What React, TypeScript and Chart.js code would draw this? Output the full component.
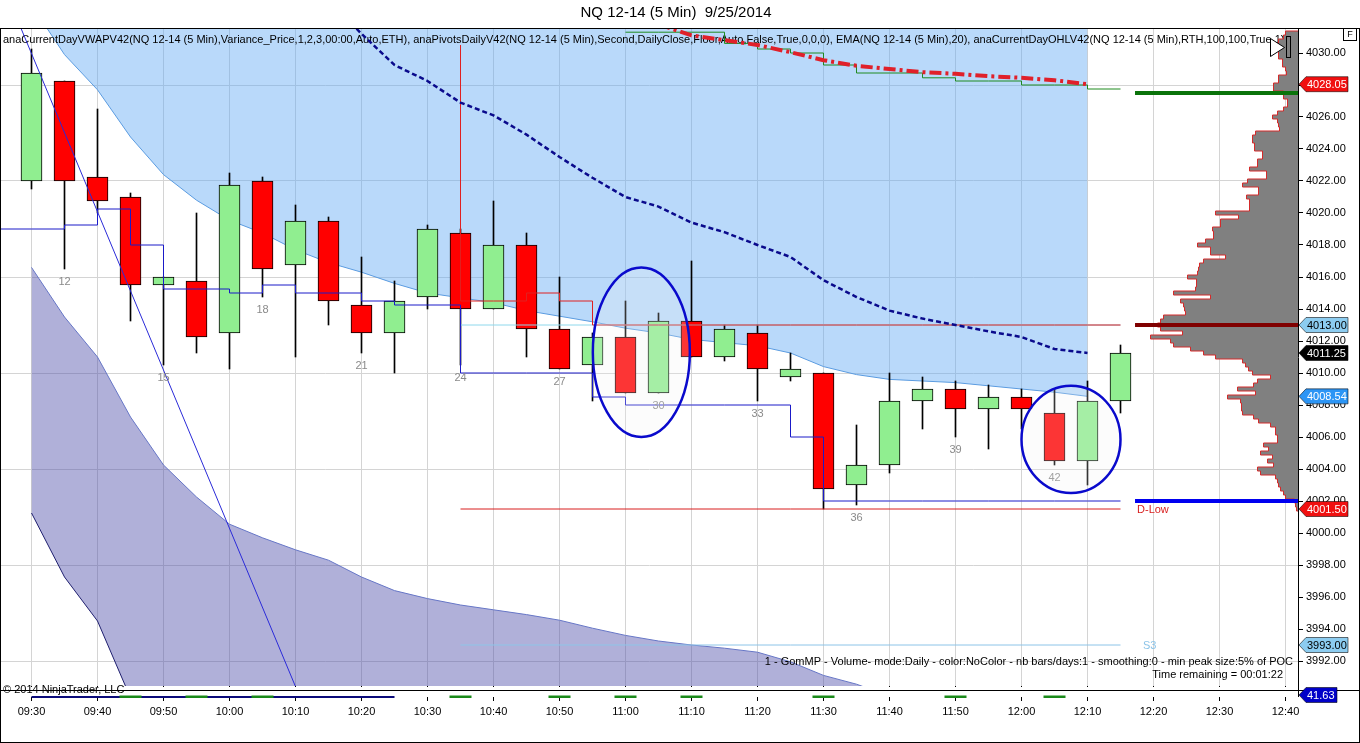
import { useEffect, useRef } from "react";
import Chart from "chart.js/auto";

const FONT = '"Liberation Sans", Arial, sans-serif';

// 5-minute bars, index 0 = 09:30 bar
const opens = [4022, 4028.25, 4022.25, 4021, 4015.5, 4015.75, 4012.5, 4022, 4016.75, 4019.5, 4014.25, 4012.5, 4014.75, 4018.75, 4014, 4018, 4012.75, 4010.5, 4012.25, 4008.75, 4013.25, 4011, 4012.5, 4009.75, 4010, 4003, 4004.25, 4008.25, 4009, 4007.75, 4008.5, 4007.5, 4004.5, 4008.25];
const highs = [4030.25, 4028.25, 4026.5, 4021.25, 4016, 4020, 4022.5, 4022.25, 4020.5, 4019.75, 4017.25, 4015.75, 4019.25, 4019, 4020.75, 4018.75, 4016, 4012.5, 4014.5, 4013.75, 4017, 4013, 4013, 4011.25, 4010, 4006.75, 4010, 4009.75, 4009.5, 4009.25, 4009, 4009, 4009.5, 4011.75];
const lows = [4021.5, 4016.5, 4020, 4013.25, 4010.5, 4011.25, 4010.25, 4014.75, 4011, 4013, 4011.25, 4010, 4014, 4010.5, 4014, 4011, 4010.25, 4008.25, 4008.75, 4008.75, 4011, 4010.75, 4008.25, 4009.5, 4001.5, 4001.75, 4003.75, 4006.5, 4006, 4005.25, 4006.5, 4004.25, 4003, 4007.5];
const closes = [4028.75, 4022, 4020.75, 4015.5, 4016, 4012.25, 4021.75, 4016.5, 4019.5, 4014.5, 4012.5, 4014.5, 4019, 4014, 4018, 4012.75, 4010.25, 4012.25, 4008.75, 4013.25, 4011, 4012.75, 4010.25, 4010.25, 4002.75, 4004.25, 4008.25, 4009, 4007.75, 4008.5, 4007.75, 4004.5, 4008.25, 4011.25];
const barNumberOffset = 11; // bar 12 = 09:35

const timeTicks = ["09:30", "09:40", "09:50", "10:00", "10:10", "10:20", "10:30", "10:40", "10:50", "11:00", "11:10", "11:20", "11:30", "11:40", "11:50", "12:00", "12:10", "12:20", "12:30", "12:40"];

// VWAP variance bands (from bar 0)
const vwapUpperBand = [4033, 4029.9, 4027.7, 4024.75, 4022.4, 4020.8, 4019.55, 4018.75, 4017.7, 4016.9, 4016.3, 4015.6, 4015, 4014.7, 4014.4, 4013.9, 4013.55, 4013.2, 4012.8, 4012.5, 4012.1, 4011.9, 4011.7, 4011.25, 4010.4, 4009.9, 4009.6, 4009.5, 4009.4, 4009.2, 4009, 4008.8, 4008.54];
const vwapLowerBand2 = [4016.6, 4013.5, 4011, 4007.25, 4004.25, 4002.25, 4000.55, 3999.7, 3998.95, 3998.3, 3997.25, 3996.4, 3995.9, 3995.5, 3995.2, 3994.9, 3994.55, 3994.05, 3993.6, 3993.25, 3993, 3992.8, 3992.55, 3991.95, 3991.1, 3990.55, 3989.8];
const vwapLowerBand3 = [4001.25, 3997.25, 3994.5, 3989.7, 3986.5, 3984, 3982.5, 3981.5, 3980.5, 3980, 3979, 3978.5, 3978, 3977.5, 3977.2, 3977, 3976.7, 3976.3, 3976, 3975.7, 3975.5, 3975.3, 3975, 3974.5, 3974, 3973.7, 3973.5];

// EMA(20) from bar 9
const emaStart = 9;
const ema20 = [4033.3, 4031.2, 4029.25, 4028.25, 4026.9, 4026.1, 4024.9, 4023.5, 4022.2, 4021, 4020.4, 4019.4, 4018.8, 4018, 4017.25, 4015.8, 4014.75, 4013.9, 4013.4, 4013, 4012.6, 4012.25, 4011.5, 4011.25];

// upper band 1 (dash-dot) from bar 19
const dashDotStart = 19;
const dashDotBand = [4031.8, 4031.1, 4030.8, 4030.5, 4030.05, 4029.55, 4029.2, 4029, 4028.8, 4028.7, 4028.55, 4028.45, 4028.3, 4028.05];

// green step line from bar 18 (value holds until the next bar)
const greenStepStart = 18;
const greenStep = [4031.3, 4031.3, 4031.3, 4030.6, 4030.25, 4030, 4029.25, 4028.75, 4028.75, 4028.45, 4028.25, 4028.25, 4028, 4028, 4027.75, 4027.75];

// blue step line from bar -1 (value holds until the next bar)
const blueStepStart = -1;
const blueStep = [4019, 4019, 4019.25, 4020.25, 4018, 4015.25, 4015.25, 4015, 4015.5, 4015, 4015, 4014.5, 4014.25, 4014.25, 4010, 4010, 4010, 4010, 4008.5, 4008, 4008, 4008, 4008, 4008, 4006, 4002, 4002, 4002, 4002, 4002, 4002, 4002, 4002, 4002, 4002];

// red step line from bar 13 (value holds from the previous bar)
const redStepStart = 13;
const redStep = [4030.5, 4014.5, 4014.5, 4015, 4014.5, 4013, 4013, 4013, 4013, 4013, 4013, 4013, 4013, 4013, 4013, 4013, 4013, 4013, 4013, 4013, 4013];

// daily pivots, drawn from bar 13 to bar 33
const pivotFrom = 13;
const pivotTo = 33;
const pivotLevels = [4013, 4001.5, 3993];
const pivotNames = ["", "D-Low", "S3"];
const pivotColors = ["#8ED8EC", "#D81E1E", "#8CC4E8"];

// current-day levels drawn to the right edge
const rightLevelFrom = 33.44;
const rightLevels = [4027.5, 4013, 4002];
const rightLevelColors = ["#0A730A", "#800000", "#0000F0"];

// manual trend line (bar, price)
const trendLine = [[-0.33, 4031.6], [8, 3990.4]];

// ellipses: centre (bar, price), radii (bars, points)
const ellipseCentres = [[18.48, 4011.3], [31.5, 4005.85]];
const ellipseRadii = [[1.47, 5.3], [1.5, 3.35]];

// GomMP volume profile, 0.25 ticks from the top level down
const profileTop = 4031.25;
const profileTick = 0.25;
const profileVolumes = [
  13, 15,
  20, 23, 23, 20,
  20, 16, 16, 13,
  12, 20, 20, 25,
  25, 15, 15, 11,
  11, 15, 21, 26,
  21, 20, 19, 43,
  46, 46, 44, 44,
  36, 36, 41, 41,
  49, 32, 32, 51,
  56, 40, 40, 52,
  49, 49, 49, 83,
  60, 78, 78, 86,
  85, 85, 93, 101,
  88, 88, 73, 95,
  99, 100, 101, 111,
  102, 102, 103, 125,
  88, 118, 115, 114,
  113, 135, 138, 141,
  138, 116, 148, 128,
  125, 108, 95, 83,
  56, 53, 50, 46,
  28, 41, 45, 61,
  43, 71, 58, 57,
  57, 56, 45, 40,
  28, 23, 23, 21,
  21, 35, 30, 38,
  26, 31, 25, 41,
  38, 23, 21, 20,
  18, 15, 13, 4,
  3, 2,
];

// sub-panel marks
const subPanelLineBars = [0, 11];
const subPanelGreenBars = [3, 5, 7, 13, 16, 18, 20, 24, 28, 31];

const tagValues = [4028.05, 4013, 4011.25, 4008.54, 4001.5, 3993];
const tagFills = ["#F01010", "#8CCCF0", "#000000", "#2C95F5", "#F01010", "#8CCCF0"];
const tagText = ["#FFFFFF", "#000000", "#FFFFFF", "#FFFFFF", "#FFFFFF", "#000000"];

const headerText =
  "anaCurrentDayVWAPV42(NQ 12-14 (5 Min),Variance_Price,1,2,3,00:00,Auto,ETH), anaPivotsDailyV42(NQ 12-14 (5 Min),Second,DailyClose,Floor,Auto,False,True,0,0,0), EMA(NQ 12-14 (5 Min),20), anaCurrentDayOHLV42(NQ 12-14 (5 Min),RTH,100,100,True,1)";

const X_MIN = -30.5 / 33;
const X_MAX = X_MIN + 1297 / 33;
const Y_MIN = 4000 - 153 / 16;
const Y_MAX = 4000 + 505 / 16;

const pts = (start: number, values: number[]) => values.map((y, k) => ({ x: start + k, y }));

function lineDs(label: string, data: any[], color: string, width: number, extra: any = {}) {
  return {
    type: "line",
    label,
    data,
    borderColor: color,
    borderWidth: width,
    pointRadius: 0,
    tension: 0,
    fill: false,
    clip: 0,
    ...extra,
  };
}

function drawTag(ctx: CanvasRenderingContext2D, y: number, text: string, bg: string, fg: string, width = 49) {
  const x = 1299;
  ctx.beginPath();
  ctx.moveTo(x, y);
  ctx.lineTo(x + 7, y - 7.5);
  ctx.lineTo(x + width, y - 7.5);
  ctx.lineTo(x + width, y + 7.5);
  ctx.lineTo(x + 7, y + 7.5);
  ctx.closePath();
  ctx.fillStyle = bg;
  ctx.fill();
  ctx.strokeStyle = "rgba(0,0,0,0.55)";
  ctx.lineWidth = 1;
  ctx.stroke();
  ctx.fillStyle = fg;
  ctx.font = `11px ${FONT}`;
  ctx.textAlign = "left";
  ctx.textBaseline = "middle";
  ctx.fillText(text, x + 8, y + 0.5);
}

const ntOverlay = {
  id: "ntOverlay",
  afterDatasetDraw(chart: any, args: any) {
    if (args.index !== 0) return;
    // indicator header sits over the band fill, under the lines
    const { ctx, chartArea: a } = chart;
    ctx.save();
    ctx.beginPath();
    ctx.rect(a.left, a.top, a.right - a.left - 8, 24);
    ctx.clip();
    ctx.font = `11px ${FONT}`;
    ctx.fillStyle = "#000";
    ctx.textBaseline = "middle";
    ctx.textAlign = "left";
    ctx.fillText(headerText, 3, 40);
    ctx.restore();
  },
  afterDatasetsDraw(chart: any) {
    const { ctx, chartArea: a } = chart;
    const xs = chart.scales.x;
    const ys = chart.scales.y;
    ctx.save();
    ctx.beginPath();
    ctx.rect(a.left, a.top, a.right - a.left, a.bottom - a.top);
    ctx.clip();

    // bar numbers every 3 bars
    ctx.font = `11px ${FONT}`;
    ctx.fillStyle = "#8A8A8A";
    ctx.textAlign = "center";
    ctx.textBaseline = "middle";
    lows.forEach((low, i) => {
      const n = i + barNumberOffset;
      if (n % 3 !== 0) return;
      ctx.fillText(String(n), xs.getPixelForValue(i), ys.getPixelForValue(low) + 13);
    });

    // ellipses
    ellipseCentres.forEach(([cx, cy], k) => {
      const px = xs.getPixelForValue(cx);
      const py = ys.getPixelForValue(cy);
      const rx = Math.abs(xs.getPixelForValue(cx + ellipseRadii[k][0]) - px);
      const ry = Math.abs(ys.getPixelForValue(cy + ellipseRadii[k][1]) - py);
      ctx.beginPath();
      ctx.ellipse(px, py, rx, ry, 0, 0, Math.PI * 2);
      ctx.fillStyle = "rgba(240,240,240,0.22)";
      ctx.fill();
      ctx.strokeStyle = "#0A0ACC";
      ctx.lineWidth = 2.5;
      ctx.stroke();
    });

    // volume profile
    const maxVol = Math.max(...profileVolumes);
    const maxW = 148;
    const right = a.right;
    ctx.fillStyle = "#808080";
    const geo = profileVolumes.map((v, k) => {
      const p = profileTop - k * profileTick;
      const y0 = ys.getPixelForValue(p + profileTick / 2);
      const y1 = ys.getPixelForValue(p - profileTick / 2);
      const x = Math.round(right - (v / maxVol) * maxW);
      return { x, y0, y1 };
    });
    geo.forEach((g) => ctx.fillRect(g.x, g.y0, right - g.x, g.y1 - g.y0));
    ctx.beginPath();
    geo.forEach((g, k) => {
      if (k === 0) ctx.moveTo(right, g.y0);
      ctx.lineTo(g.x + 0.5, g.y0);
      ctx.lineTo(g.x + 0.5, g.y1);
    });
    ctx.lineTo(right, geo[geo.length - 1].y1);
    ctx.strokeStyle = "#D42A2A";
    ctx.lineWidth = 1;
    ctx.stroke();

    // current-day levels into the right margin
    const xr0 = xs.getPixelForValue(rightLevelFrom);
    rightLevels.forEach((v, k) => {
      const y = ys.getPixelForValue(v);
      ctx.beginPath();
      ctx.moveTo(xr0, y);
      ctx.lineTo(right, y);
      ctx.strokeStyle = rightLevelColors[k];
      ctx.lineWidth = 4;
      ctx.stroke();
    });

    // pivot names
    ctx.font = `11px ${FONT}`;
    ctx.textAlign = "left";
    ctx.textBaseline = "middle";
    pivotLevels.forEach((v, k) => {
      if (!pivotNames[k]) return;
      ctx.fillStyle = pivotColors[k];
      ctx.fillText(pivotNames[k], xr0 + (k === 2 ? 8 : 2), ys.getPixelForValue(v) + 1);
    });

    // profile caption
    ctx.fillStyle = "#000";
    ctx.textAlign = "right";
    ctx.fillText("1 - GomMP - Volume- mode:Daily - color:NoColor - nb bars/days:1 - smoothing:0 - min peak size:5% of POC", a.right - 5, 662);
    ctx.fillText("Time remaining = 00:01:22", a.right - 15, 675);
    ctx.restore();
  },
  afterDraw(chart: any) {
    const { ctx, chartArea: a, width, height } = chart;
    const xs = chart.scales.x;
    ctx.save();

    // indicator sub-panel
    ctx.fillStyle = "#FFFFFF";
    ctx.fillRect(a.left, a.bottom + 1, a.right - a.left, 10);
    ctx.strokeStyle = "#0A0A7A";
    ctx.lineWidth = 2;
    ctx.beginPath();
    ctx.moveTo(xs.getPixelForValue(subPanelLineBars[0]), 697);
    ctx.lineTo(xs.getPixelForValue(subPanelLineBars[1]), 697);
    ctx.stroke();
    ctx.fillStyle = "#1A8A1A";
    subPanelGreenBars.forEach((i) => {
      const x = xs.getPixelForValue(i);
      ctx.fillRect(x - 11, 695.5, 22, 2.5);
    });
    ctx.strokeStyle = "#000";
    ctx.lineWidth = 1;
    ctx.beginPath();
    ctx.moveTo(0, 690.5);
    ctx.lineTo(width, 690.5);
    ctx.moveTo(a.right + 0.5, a.bottom);
    ctx.lineTo(a.right + 0.5, 697);
    ctx.stroke();

    ctx.font = `11px ${FONT}`;
    ctx.fillStyle = "#000";
    ctx.textAlign = "left";
    ctx.textBaseline = "middle";
    ctx.fillText("\u00A9 2014 NinjaTrader, LLC", 3, 690);

    // price tags
    const ys = chart.scales.y;
    tagValues.forEach((v, k) => drawTag(ctx, ys.getPixelForValue(v), v.toFixed(2), tagFills[k], tagText[k]));
    drawTag(ctx, 695, "41.63", "#0000C8", "#FFFFFF", 38);

    // frame
    ctx.strokeStyle = "#000";
    ctx.lineWidth = 1;
    ctx.strokeRect(0.5, 28.5, width - 1, height - 29);

    // title
    ctx.font = `15px ${FONT}`;
    ctx.textAlign = "center";
    ctx.textBaseline = "middle";
    ctx.fillStyle = "#000";
    ctx.fillText("NQ 12-14 (5 Min)  9/25/2014", 676, 13);

    // "F" box
    ctx.strokeRect(1343.5, 28.5, 13, 12);
    ctx.font = `9px ${FONT}`;
    ctx.fillText("F", 1350, 35);

    // scroll-to-end icon
    ctx.fillStyle = "#FFFFFF";
    ctx.beginPath();
    ctx.moveTo(1270.5, 38.5);
    ctx.lineTo(1284.5, 47.5);
    ctx.lineTo(1270.5, 56.5);
    ctx.closePath();
    ctx.fill();
    ctx.stroke();
    ctx.strokeRect(1286.5, 36.5, 4, 21);
    ctx.restore();
  },
};

export default function App() {
  const canvasRef = useRef<HTMLCanvasElement>(null);

  useEffect(() => {
    document.body.style.margin = "0";
    const canvas = canvasRef.current;
    if (!canvas) return;
    Chart.defaults.font.family = FONT;

    const candleColors = opens.map((o, i) => (closes[i] >= o ? "#90EE90" : "#FF0000"));

    const datasets: any[] = [
      lineDs("VWAP upper band", pts(0, vwapUpperBand), "#5A9BE0", 1, {
        fill: "end",
        backgroundColor: "rgba(100,170,245,0.45)",
        order: 20,
      }),
      lineDs("VWAP lower band 2", pts(0, vwapLowerBand2), "#6676C6", 1, {
        fill: "+1",
        backgroundColor: "rgba(80,80,170,0.45)",
        order: 19,
      }),
      lineDs("VWAP lower band 3", pts(0, vwapLowerBand3), "#1E1E6E", 1, { order: 18 }),
      {
        type: "bar",
        label: "wicks",
        data: lows.map((l, i) => ({ x: i, y: [l, highs[i]] })),
        backgroundColor: "#000",
        borderWidth: 0,
        barThickness: 1,
        grouped: false,
        order: 11,
      },
      {
        type: "bar",
        label: "bodies",
        data: opens.map((o, i) => ({ x: i, y: [o, closes[i]] })),
        backgroundColor: candleColors,
        borderColor: "#000",
        borderWidth: 1,
        borderSkipped: false,
        barThickness: 21,
        grouped: false,
        order: 10,
      },
      ...pivotLevels.map((v, k) =>
        lineDs("pivot " + k, [{ x: pivotFrom, y: v }, { x: pivotTo, y: v }], pivotColors[k], 1, { order: 7 })
      ),
      lineDs("green step", pts(greenStepStart, greenStep), "#1F8A1F", 1, { stepped: "before", order: 6 }),
      lineDs("red step", pts(redStepStart, redStep), "#E02020", 1, { stepped: "after", order: 5 }),
      lineDs("blue step", pts(blueStepStart, blueStep), "#1A1AC8", 1, { stepped: "before", order: 4 }),
      lineDs("trend", trendLine.map(([x, y]) => ({ x, y })), "#2A2AD8", 1, { order: 3 }),
      lineDs("EMA 20", pts(emaStart, ema20), "#0A0A8C", 2.5, { borderDash: [5, 3], order: 2 }),
      lineDs("band 1", pts(dashDotStart, dashDotBand), "#E0202A", 4, { borderDash: [12, 4, 3, 4], order: 1 }),
    ];

    const chart = new Chart(canvas, {
      type: "line",
      data: { datasets },
      options: {
        responsive: true,
        maintainAspectRatio: false,
        animation: false,
        events: [],
        layout: { padding: { left: 1, top: 28, right: 0, bottom: 0 } },
        plugins: {
          legend: { display: false },
          tooltip: { enabled: false },
          title: { display: false },
        },
        scales: {
          x: {
            type: "linear",
            min: X_MIN,
            max: X_MAX,
            offset: false,
            afterFit: (s: any) => {
              s.height = 57;
            },
            border: { display: false },
            grid: {
              offset: false,
              color: "#D4D4D4",
              lineWidth: 1,
              tickColor: "#000",
              tickLength: 15,
            },
            ticks: {
              stepSize: 2,
              includeBounds: false,
              autoSkip: false,
              maxRotation: 0,
              padding: 4,
              color: "#000",
              font: { size: 11 },
              callback: (v: any) => timeTicks[Math.round(Number(v) / 2)] ?? "",
            },
          },
          y: {
            type: "linear",
            position: "right",
            min: Y_MIN,
            max: Y_MAX,
            afterFit: (s: any) => {
              s.width = 62;
            },
            border: { display: true, color: "#000", width: 1 },
            grid: {
              color: (c: any) => (Math.round(c.tick.value) % 6 === 2 ? "#D4D4D4" : "rgba(0,0,0,0)"),
              lineWidth: 1,
              tickColor: "#000",
              tickLength: 5,
            },
            ticks: {
              stepSize: 2,
              includeBounds: false,
              padding: 3,
              color: "#000",
              font: { size: 11 },
              callback: (v: any) => Number(v).toFixed(2),
            },
          },
        },
      },
      plugins: [ntOverlay],
    } as any);

    return () => chart.destroy();
  }, []);

  return (
    <div style={{ position: "relative", width: 1360, height: 743, background: "#FFFFFF" }}>
      <canvas ref={canvasRef} />
    </div>
  );
}
